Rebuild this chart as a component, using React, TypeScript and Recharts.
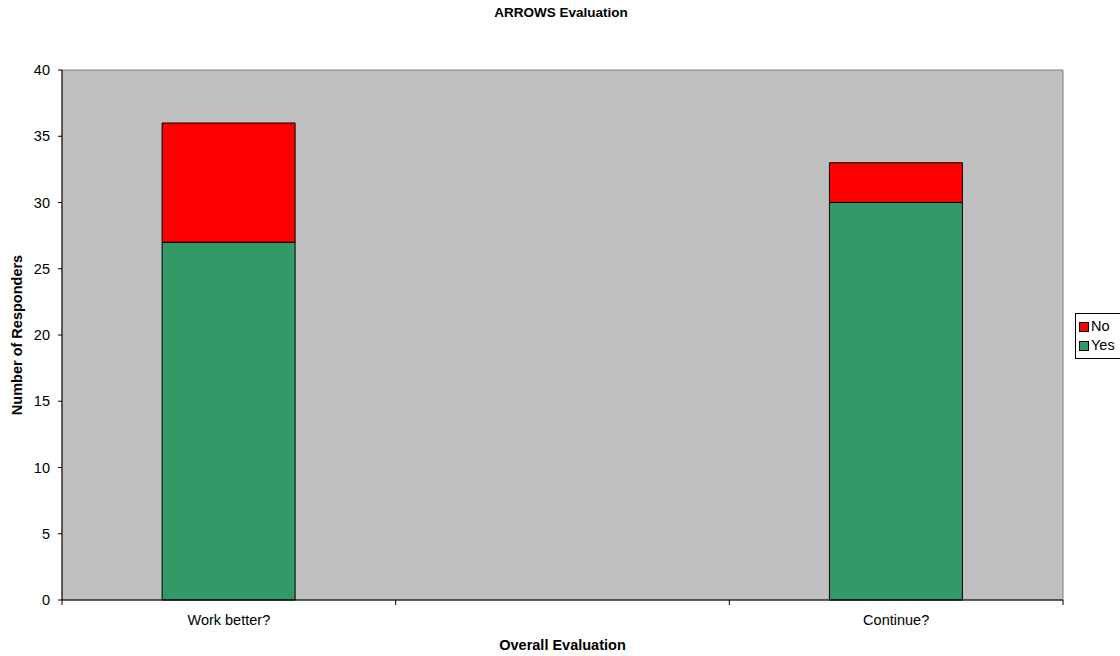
import React from 'react'
import { BarChart, Bar, XAxis, YAxis, CartesianGrid, ReferenceArea, Legend } from 'recharts'

const categories = ['Work better?', '', 'Continue?']
const yesValues = [27, null, 30]
const noValues = [9, null, 3]
const yTicks = [0, 5, 10, 15, 20, 25, 30, 35, 40]
const gridLines = [5, 10, 15, 20, 25, 30, 35]

const FONT = '"Liberation Sans", Arial, sans-serif'
const GREEN = '#339966'
const RED = '#FF0000'
const TICK_GAP = 15

const data = categories.map((name, i) => ({ name, Yes: yesValues[i], No: noValues[i] }))

// category label plus tick marks on the band edges
function CategoryTick(props: any) {
    const { x, y, payload, index, visibleTicksCount } = props
    const half = payload.offset || 0
    const axisY = y - TICK_GAP
    const isLast = index === (visibleTicksCount ?? categories.length) - 1
    return (
        <g>
            <line x1={x - half} x2={x - half} y1={axisY} y2={axisY + 5} stroke="#000" />
            {isLast && <line x1={x + half} x2={x + half} y1={axisY} y2={axisY + 5} stroke="#000" />}
            <text x={x} y={y} dy="0.71em" textAnchor="middle" fontFamily={FONT} fontSize={14.5} fill="#000">
                {payload.value}
            </text>
        </g>
    )
}

function LegendBox() {
    const items = [
        { label: 'No', color: RED },
        { label: 'Yes', color: GREEN },
    ]
    return (
        <div style={{
            border: '1px solid #000',
            background: '#fff',
            padding: '3px 6px 3px 3px',
            fontFamily: FONT,
            fontSize: 14.5,
            lineHeight: '19px',
            color: '#000',
        }}>
            {items.map(item => (
                <div key={item.label} style={{ display: 'flex', alignItems: 'center' }}>
                    <span style={{
                        display: 'inline-block',
                        width: 8,
                        height: 8,
                        background: item.color,
                        border: '1px solid #000',
                        marginRight: 2,
                    }} />
                    {item.label}
                </div>
            ))}
        </div>
    )
}

export default function App() {
    return (
        <div style={{ position: 'absolute', left: 0, top: 0, width: 1120, height: 656, background: '#fff', overflow: 'hidden' }}>
            <div style={{
                position: 'absolute',
                top: 5,
                left: 0,
                width: 1122,
                textAlign: 'center',
                fontFamily: FONT,
                fontWeight: 'bold',
                fontSize: 13.5,
                color: '#000',
            }}>
                ARROWS Evaluation
            </div>
            <BarChart
                width={1120}
                height={656}
                data={data}
                margin={{ top: 70, right: 57, bottom: 0, left: 0 }}
                barCategoryGap="30%"
            >
                <ReferenceArea yAxisId={0} y1={0} y2={40} fill="#C0C0C0" fillOpacity={1} stroke="#808080" strokeWidth={1} />
                <CartesianGrid horizontalValues={gridLines} vertical={false} stroke="#000" strokeWidth={1} />
                <XAxis
                    dataKey="name"
                    stroke="#000"
                    tickLine={false}
                    tickSize={0}
                    tickMargin={TICK_GAP}
                    height={56}
                    interval={0}
                    tick={<CategoryTick />}
                    label={{
                        content: ({ viewBox }: any) => (
                            <text x={viewBox.x + viewBox.width / 2} y={650} textAnchor="middle"
                                fontFamily={FONT} fontSize={14.5} fontWeight="bold" fill="#000">
                                Overall Evaluation
                            </text>
                        ),
                    }}
                />
                <YAxis
                    domain={[0, 40]}
                    ticks={yTicks}
                    width={62}
                    tickSize={4}
                    tickMargin={8}
                    stroke="#000"
                    interval={0}
                    tick={{ fontFamily: FONT, fontSize: 14.5, fill: '#000' }}
                    label={{
                        content: ({ viewBox }: any) => {
                            const cy = viewBox.y + viewBox.height / 2
                            return (
                                <text x={17} y={cy} transform={`rotate(-90 17 ${cy})`} textAnchor="middle"
                                    dominantBaseline="central" fontFamily={FONT} fontSize={14.5} fontWeight="bold" fill="#000">
                                    Number of Responders
                                </text>
                            )
                        },
                    }}
                />
                <Legend
                    layout="horizontal"
                    align="center"
                    verticalAlign="middle"
                    content={() => <LegendBox />}
                    wrapperStyle={{ left: 1075, top: 313, width: 'auto' }}
                />
                <Bar dataKey="Yes" stackId="a" fill={GREEN} stroke="#000" strokeWidth={1} isAnimationActive={false} />
                <Bar dataKey="No" stackId="a" fill={RED} stroke="#000" strokeWidth={1} isAnimationActive={false} />
            </BarChart>
        </div>
    )
}
